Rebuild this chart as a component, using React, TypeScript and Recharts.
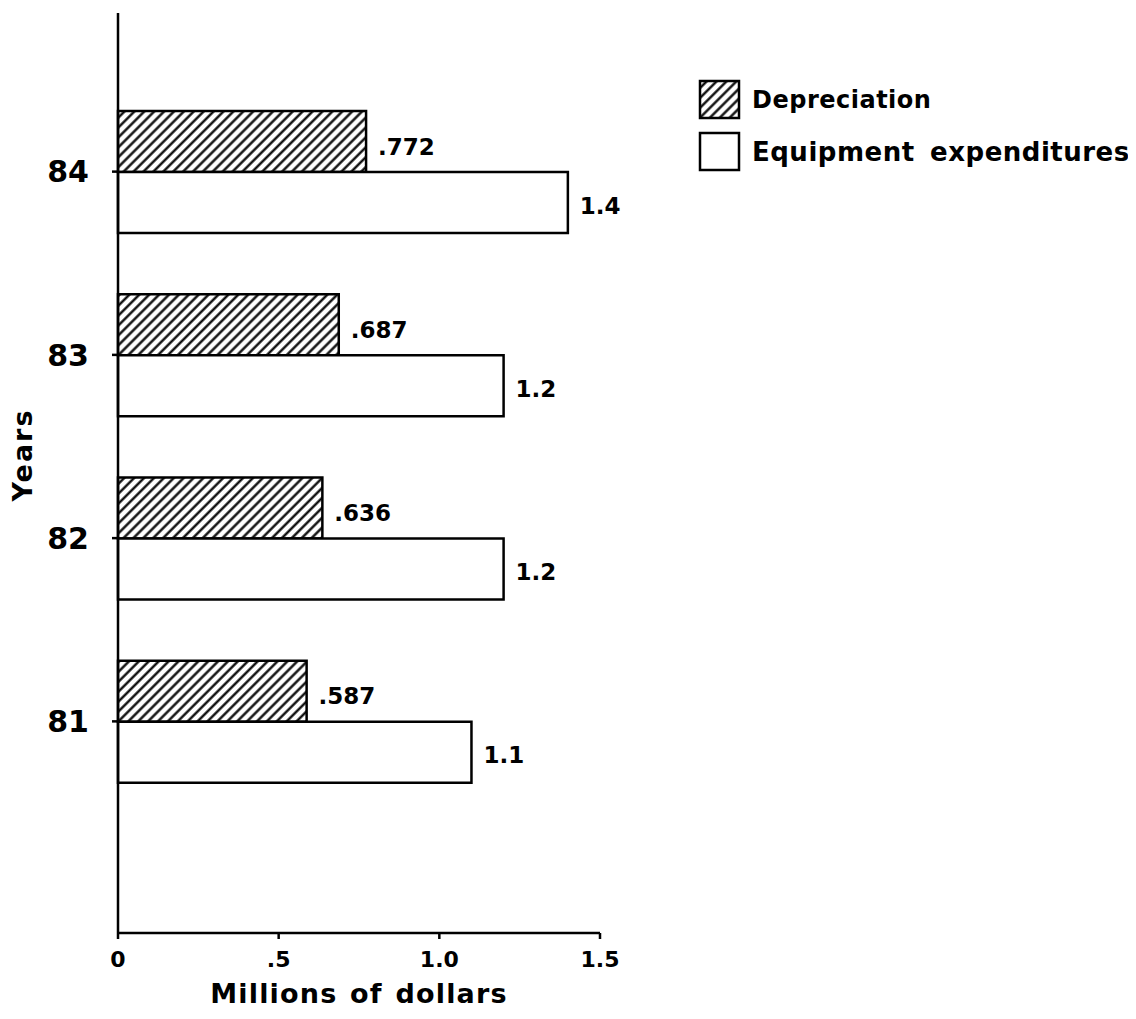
import { Bar, BarChart, LabelList, XAxis, YAxis } from "recharts";

const years = ["84", "83", "82", "81"];
const depreciation = [0.772, 0.687, 0.636, 0.587];
const equipment = [1.4, 1.2, 1.2, 1.1];
const xTicks = [0, 0.5, 1.0, 1.5];
const xTickLabels = ["0", ".5", "1.0", "1.5"];
const seriesNames = ["Depreciation", "Equipment expenditures"];

const data = years.map((year, i) => ({
  year,
  depreciation: depreciation[i],
  equipment: equipment[i],
}));

const FONT = "'DejaVu Sans', Verdana, sans-serif";

// drop the leading zero the way the original does (.772, not 0.772)
function formatValue(v: number) {
  if (v < 1) return String(v).replace(/^0/, "");
  return v.toFixed(1);
}

function ChartLegend() {
  return (
    <div
      style={{
        position: "absolute",
        left: 690,
        top: 66,
        fontFamily: FONT,
        fontWeight: "bold",
        color: "#000",
      }}
    >
      {seriesNames.map((name, i) => (
        <div
          key={name}
          style={{ display: "flex", alignItems: "center", height: 52 }}
        >
          <svg width={44} height={44} style={{ marginRight: 10 }}>
            <rect
              x={2}
              y={3}
              width={39}
              height={37}
              fill={i === 0 ? "url(#hatch)" : "#fff"}
              stroke="#000"
              strokeWidth={2.5}
            />
          </svg>
          <span
            style={{
              fontSize: i === 0 ? 24 : 26,
              letterSpacing: 0.5,
              wordSpacing: 6,
              whiteSpace: "nowrap",
            }}
          >
            {name}
          </span>
        </div>
      ))}
    </div>
  );
}

function App() {
  return (
    <div style={{ position: "relative", width: 1120, height: 1010 }}>
      <svg width={0} height={0} style={{ position: "absolute" }}>
        <defs>
          <pattern
            id="hatch"
            patternUnits="userSpaceOnUse"
            width={7}
            height={7}
            patternTransform="rotate(45)"
          >
            <rect width={7} height={7} fill="#fff" />
            <line x1={1.5} y1={0} x2={1.5} y2={7} stroke="#000" strokeWidth={2.3} />
          </pattern>
        </defs>
      </svg>
      <BarChart
        width={1120}
        height={1010}
        data={data}
        layout="vertical"
        margin={{ top: 5, right: 528, left: 30, bottom: 0 }}
        barGap={0}
        barSize={61}
      >
        <XAxis
          type="number"
          domain={[0, 1.5]}
          ticks={xTicks}
          tickFormatter={(v: number) => xTickLabels[xTicks.indexOf(v)]}
          height={85}
          stroke="#000"
          strokeWidth={2.5}
          tickSize={6}
          tickMargin={12}
          tick={{ fill: "#000", fontSize: 22, fontWeight: "bold", fontFamily: FONT }}
          label={{
            value: "Millions of dollars",
            content: ({ viewBox }: any) => (
              <text
                x={viewBox.x + viewBox.width / 2}
                y={viewBox.y + 70}
                textAnchor="middle"
                fontFamily={FONT}
                fontWeight="bold"
                fontSize={27}
                letterSpacing={1.2}
                wordSpacing={2}
                fill="#000"
              >
                Millions of dollars
              </text>
            ),
          }}
        />
        <YAxis
          type="category"
          dataKey="year"
          width={80}
          padding={{ top: 67, bottom: 120 }}
          stroke="#000"
          strokeWidth={2.5}
          tickSize={6}
          tickMargin={23}
          tick={{ fill: "#000", fontSize: 30, fontWeight: "bold", fontFamily: FONT }}
          label={{
            value: "Years",
            content: ({ viewBox }: any) => {
              const x = 14;
              const y = viewBox.y + viewBox.height / 2 - 18;
              return (
                <text
                  x={x}
                  y={y}
                  transform={`rotate(-90 ${x} ${y})`}
                  textAnchor="middle"
                  dominantBaseline="central"
                  fontFamily={FONT}
                  fontWeight="bold"
                  fontSize={27}
                  letterSpacing={2}
                  fill="#000"
                >
                  Years
                </text>
              );
            },
          }}
        />
        <Bar
          dataKey="depreciation"
          name={seriesNames[0]}
          fill="url(#hatch)"
          stroke="#000"
          strokeWidth={2.5}
          isAnimationActive={false}
        >
          <LabelList
            dataKey="depreciation"
            position="right"
            offset={12}
            formatter={(v: any) => formatValue(Number(v))}
            fill="#000"
            fontSize={23}
            fontWeight="bold"
            fontFamily={FONT}
            dy={5}
          />
        </Bar>
        <Bar
          dataKey="equipment"
          name={seriesNames[1]}
          fill="#fff"
          stroke="#000"
          strokeWidth={2.5}
          isAnimationActive={false}
        >
          <LabelList
            dataKey="equipment"
            position="right"
            offset={12}
            formatter={(v: any) => formatValue(Number(v))}
            fill="#000"
            fontSize={23}
            fontWeight="bold"
            fontFamily={FONT}
            dy={3}
          />
        </Bar>
      </BarChart>
      <ChartLegend />
    </div>
  );
}

export default App;
